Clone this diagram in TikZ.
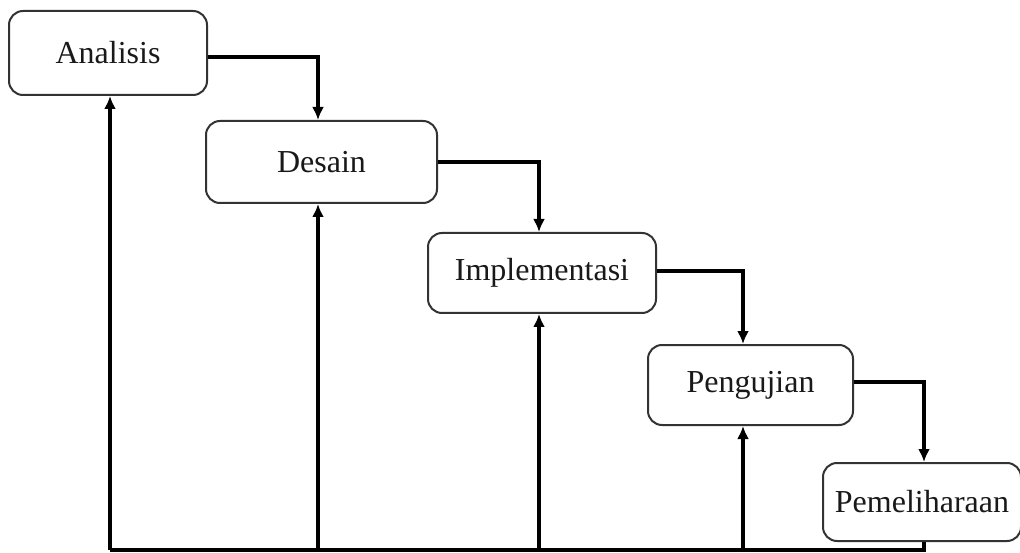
\documentclass[tikz,border=0pt]{standalone}
\usepackage{fontspec}
\setmainfont{Liberation Serif}
\usetikzlibrary{arrows.meta}
\begin{document}
\begin{tikzpicture}[x=1pt,y=-1pt,
  stage/.style={draw=black!80, line width=2pt, rounded corners=14pt, fill=white,
    font=\fontsize{32}{36}\selectfont, inner sep=0pt, text=black!90},
  link/.style={line width=3.4pt, -{Latex[length=13pt,width=12pt]}},
  plain/.style={line width=3.4pt}]
\useasboundingbox (0,0) rectangle (1020,553);
\node[stage, minimum width=198pt, minimum height=84pt] (A) at (108,53) {Analisis};
\node[stage, minimum width=231pt, minimum height=82pt] (B) at (321.5,162) {Desain};
\node[stage, minimum width=228pt, minimum height=80pt] (C) at (542,273) {Implementasi};
\node[stage, minimum width=205pt, minimum height=80pt] (D) at (750.5,385) {Pengujian};
\node[stage, minimum width=198pt, minimum height=78pt] (E) at (922,502) {Pemeliharaan};
\coordinate (cA) at (110,550);
\coordinate (cB) at (318,550);
\coordinate (cC) at (539,550);
\coordinate (cD) at (743,550);
\coordinate (cE) at (924,550);
% forward flow
\draw[link] ([yshift=-4pt]A.east) -| (B.north -| cB);
\draw[link] (B.east) -| (C.north -| cC);
\draw[link] ([yshift=2pt]C.east) -| (D.north -| cD);
\draw[link] ([yshift=3pt]D.east) -| (E.north -| cE);
% feedback
\draw[plain] (E.south -| cE) |- (cA);
\draw[link] (cA) -- (A.south -| cA);
\draw[link] (cB) -- (B.south -| cB);
\draw[link] (cC) -- (C.south -| cC);
\draw[link] (cD) -- (D.south -| cD);
\end{tikzpicture}
\end{document}
